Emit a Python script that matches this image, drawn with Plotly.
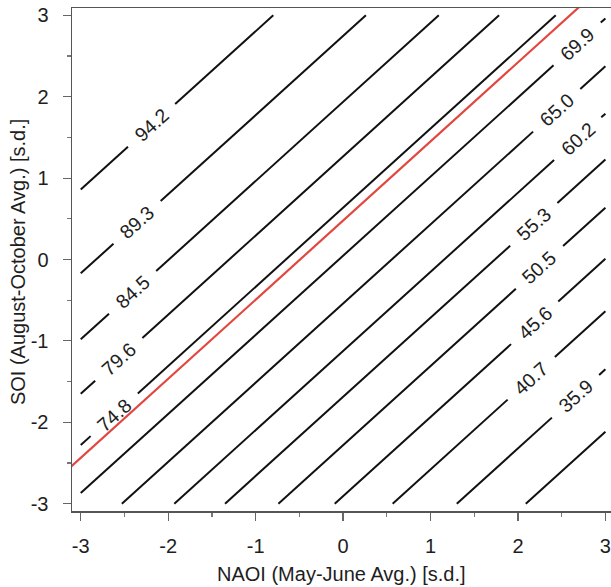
import plotly.graph_objects as go

# ---- data ----
# contour labels (None = unlabeled line)
levels = ["94.2", "89.3", "84.5", "79.6", "74.8", "69.9", "65.0",
          "60.2", "55.3", "50.5", "45.6", "40.7", "35.9", None]
# SOI value where each contour crosses NAOI = 0
intercepts = [3.776, 2.746, 1.936, 1.266, 0.636, 0.046, -0.541,
              -1.124, -1.688, -2.281, -2.907, -3.551, -4.264, -5.031]
# NAOI position of each contour label
label_naoi = [-2.19, -2.356, -2.407, -2.565, -2.617, 2.677, 2.443,
              2.683, 2.181, 2.246, 2.191, 2.152, 2.658, None]
slope = 0.972           # common slope of the (parallel) contour lines
red_intercept = 0.478   # highlighted contour
grid_min, grid_max = -3.0, 3.0
x_ticks = [-3, -2, -1, 0, 1, 2, 3]
y_ticks = [-3, -2, -1, 0, 1, 2, 3]

HALF_GAP = 0.27
FONT = "Liberation Sans, Arial, sans-serif"
TXT = "#1e1e1e"

xs, ys = [], []
annotations = []
for lab, c, lx in zip(levels, intercepts, label_naoi):
    x_lo = max(grid_min, (grid_min - c) / slope)
    x_hi = min(grid_max, (grid_max - c) / slope)
    if lab is not None and lx is not None:
        segs = [(x_lo, lx - HALF_GAP), (lx + HALF_GAP, x_hi)]
        annotations.append(dict(
            x=lx, y=slope * lx + c, xref="x", yref="y", text=lab,
            showarrow=False, textangle=-42.1,
            font=dict(family=FONT, size=19.5, color=TXT)))
    else:
        segs = [(x_lo, x_hi)]
    for a, b in segs:
        if b > a:
            xs += [a, b, None]
            ys += [slope * a + c, slope * b + c, None]

fig = go.Figure()
fig.add_trace(go.Scatter(x=xs, y=ys, mode="lines",
                         line=dict(color="#111111", width=2),
                         hoverinfo="skip", showlegend=False))
rx = [-3.3, 3.3]
fig.add_trace(go.Scatter(x=rx, y=[slope * v + red_intercept for v in rx],
                         mode="lines", line=dict(color="#e2473f", width=2.2),
                         hoverinfo="skip", showlegend=False))

annotations.append(dict(x=0.4995, y=-0.125, xref="paper", yref="paper",
                        text="NAOI (May-June Avg.) [s.d.]", showarrow=False,
                        font=dict(family=FONT, size=20, color=TXT),
                        xanchor="center", yanchor="middle"))
annotations.append(dict(x=-0.1, y=0.495, xref="paper", yref="paper",
                        text="SOI (August-October Avg.) [s.d.]", showarrow=False,
                        textangle=-90,
                        font=dict(family=FONT, size=20, color=TXT),
                        xanchor="center", yanchor="middle"))

fig.update_layout(
    width=611, height=587,
    margin=dict(l=72, r=0, t=8, b=76, autoexpand=False),
    paper_bgcolor="white", plot_bgcolor="white",
    annotations=annotations,
    xaxis=dict(range=[-3.1, 3.064], showgrid=False, zeroline=False,
               showline=True, mirror=True, linecolor="#555555", linewidth=1.5,
               ticks="outside", ticklen=8, tickwidth=1.2, tickcolor="#666666",
               tickvals=x_ticks, ticktext=[str(v) for v in x_ticks],
               ticklabelstandoff=8, automargin=False,
               minor=dict(tickvals=[v + 0.5 for v in x_ticks[:-1]],
                          ticks="outside", ticklen=4, tickwidth=1.2,
                          tickcolor="#777777", showgrid=False),
               tickfont=dict(family=FONT, size=20, color=TXT)),
    yaxis=dict(range=[-3.09, 3.09], showgrid=False, zeroline=False,
               showline=True, mirror=False, linecolor="#555555", linewidth=1.5,
               ticks="outside", ticklen=8, tickwidth=1.2, tickcolor="#666666",
               tickvals=y_ticks, ticktext=[str(v) for v in y_ticks],
               ticklabelstandoff=10, automargin=False,
               minor=dict(tickvals=[v + 0.5 for v in y_ticks[:-1]],
                          ticks="outside", ticklen=4, tickwidth=1.2,
                          tickcolor="#777777", showgrid=False),
               tickfont=dict(family=FONT, size=20, color=TXT)),
)

fig.write_html("out.html",
               config={"displayModeBar": False, "staticPlot": True},
               post_script="document.body.style.margin='0px';"
                           "document.body.style.overflow='hidden';")
